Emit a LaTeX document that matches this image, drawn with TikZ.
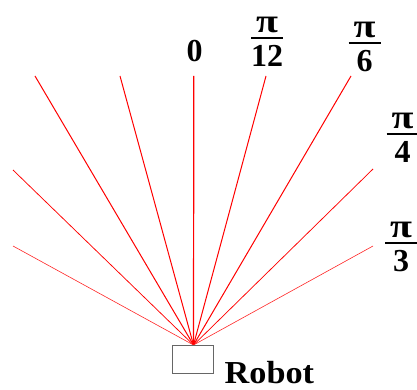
\documentclass[tikz,border=0pt]{standalone}
\usepackage{graphicx}
\usepackage{fontspec}
\setmainfont{Liberation Serif}
\newcommand{\myfr}[2]{\vbox{\hsize=32pt\offinterlineskip
  \hbox to 32pt{\hss\scalebox{1.25}[1.05]{#1}\hss}\kern4pt
  \hrule height 2pt\kern6.6pt
  \hbox to 32pt{\hss#2\hss}}}
\tikzset{
  ray/.style={draw=red, line width=1pt},
  rayvert/.style={draw=red, line width=1.2pt},
  raythin/.style={draw=red, line width=0.75pt},
  raythinner/.style={draw=red!85, line width=0.6pt},
  lbl/.style={font=\fontsize{32}{38}\selectfont\bfseries, inner sep=0pt},
  robotbox/.style={draw=black!60, line width=0.9pt, minimum width=41pt, minimum height=28pt, inner sep=0pt}
}
\begin{document}
\begin{tikzpicture}[x=1pt,y=-1pt]
\useasboundingbox (0,0) rectangle (417,390);
\coordinate (o) at (193.5,345);
\coordinate (e0) at (193.8,76);
\coordinate (el1) at (120,76);
\coordinate (el2) at (35,76);
\coordinate (el3) at (13,170);
\coordinate (el4) at (13,246);
\coordinate (er1) at (266,76);
\coordinate (er2) at (351,76);
\coordinate (er3) at (373,169);
\coordinate (er4) at (373,246);
\draw[rayvert] (o) -- (e0);
\draw[ray] (o) -- (el1);
\draw[ray] (o) -- (el2);
\draw[raythin] (o) -- (el3);
\draw[raythinner] (o) -- (el4);
\draw[ray] (o) -- (er1);
\draw[ray] (o) -- (er2);
\draw[raythin] (o) -- (er3);
\draw[raythinner] (o) -- (er4);
\node[robotbox] (robot) at (193.2,359.8) {};
\node[lbl, anchor=base west] (robotlbl) at (224.5,383.5) {\scalebox{1.07}[1]{Robot}};
\node[lbl] (l0) at (194.7,51) {0};
\node[lbl, anchor=base] (l12) at (267,66.7) {\myfr{π}{12}};
\node[lbl, anchor=base] (l6) at (364.5,71.7) {\myfr{π}{6}};
\node[lbl, anchor=base] (l4) at (402.5,162.7) {\myfr{π}{4}};
\node[lbl, anchor=base] (l3) at (401,271.7) {\myfr{π}{3}};
\end{tikzpicture}
\end{document}
